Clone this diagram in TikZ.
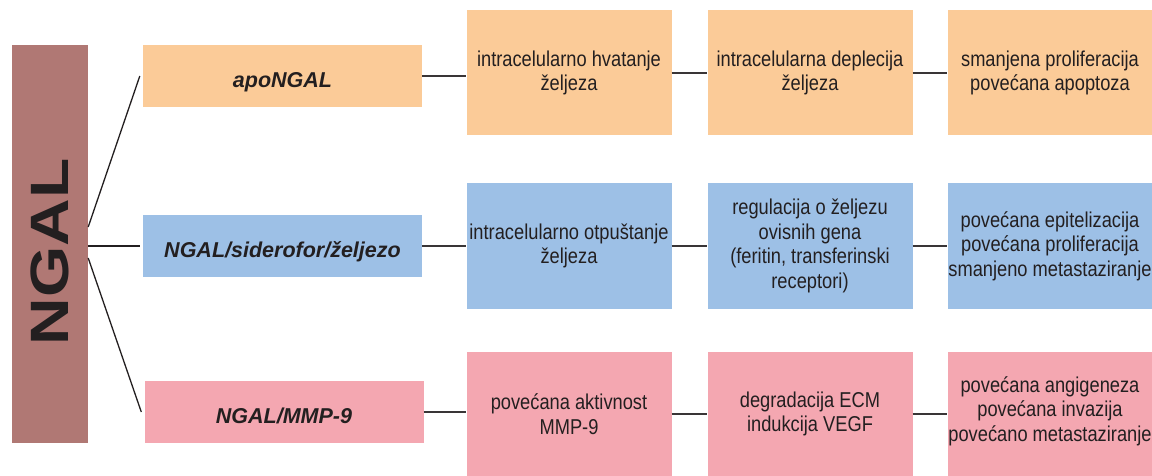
\documentclass[tikz,border=0pt]{standalone}
\usepackage{fontspec}
\setmainfont{Liberation Sans}
\newfontfamily\narrowfont[FakeStretch=0.85]{Liberation Sans}
\newfontfamily\widefont[FakeStretch=1.22]{Liberation Sans}
\usepackage{xcolor}
\definecolor{ngalred}{RGB}{176,120,116}
\definecolor{apopeach}{RGB}{251,203,152}
\definecolor{ironblue}{RGB}{157,192,230}
\definecolor{mmppink}{RGB}{244,167,177}
\definecolor{inkgray}{RGB}{35,31,32}

\begin{document}
\begin{tikzpicture}[x=1pt, y=-1pt,
    every node/.style={text=inkgray, inner sep=0pt},
    formbox/.style={rectangle, minimum width=279pt, minimum height=62pt, text height=23pt, text depth=0pt, font=\fontsize{21.5}{24}\selectfont\bfseries\itshape},
    effectbox/.style={rectangle, minimum width=205pt, minimum height=125pt, align=center, font=\narrowfont\fontsize{21.5}{24.6}\selectfont},
    link/.style={draw=inkgray!90, line width=2.2pt},
    branch/.style={draw=inkgray, line width=1.3pt}]
    \useasboundingbox (0,0) rectangle (1152,476);

    % NGAL
    \node[fill=ngalred, minimum width=76pt, minimum height=398pt] (ngal) at (50,244) {\rotatebox{90}{\widefont\fontsize{54}{54}\selectfont\bfseries NGAL\hspace*{16pt}}};

    % Forms of NGAL
    \node[formbox, fill=apopeach] (apo) at (282.5,76) {apoNGAL};
    \node[formbox, fill=ironblue] (sid) at (282.5,246) {NGAL/siderofor/željezo};
    \node[formbox, fill=mmppink] (mmp) at (284,412) {NGAL/MMP-9};

    % apoNGAL row
    \node[effectbox, fill=apopeach] (apo1) at (569,73) {intracelularno hvatanje\\željeza};
    \node[effectbox, fill=apopeach] (apo2) at (810,73) {intracelularna deplecija\\željeza};
    \node[effectbox, fill=apopeach] (apo3) at (1050,73) {smanjena proliferacija\\povećana apoptoza};

    % NGAL/siderofor/zeljezo row
    \node[effectbox, fill=ironblue] (sid1) at (569,246) {intracelularno otpuštanje\\željeza};
    \node[effectbox, fill=ironblue] (sid2) at (810,246) {regulacija o željezu\\ovisnih gena\\(feritin, transferinski\\receptori)};
    \node[effectbox, fill=ironblue] (sid3) at (1050,246) {povećana epitelizacija\\povećana proliferacija\\smanjeno metastaziranje};

    % NGAL/MMP-9 row
    \node[effectbox, fill=mmppink, minimum height=124pt] (mmp1) at (569,414) {povećana aktivnost\\MMP-9};
    \node[effectbox, fill=mmppink, minimum height=124pt] (mmp2) at (810,414) {degradacija ECM\\indukcija VEGF};
    \node[effectbox, fill=mmppink, minimum height=124pt] (mmp3) at (1050,414) {povećana angigeneza\\povećana invazija\\povećano metastaziranje\\[-14pt]};

    % Branches
    \draw[branch] ([yshift=17pt]ngal.east) -- ([xshift=-3pt]apo.west);
    \draw[branch] (ngal.east |- sid.west) -- ([xshift=-3pt]sid.west);
    \draw[branch] ([yshift=-14pt]ngal.east) -- ([xshift=-3pt]mmp.west);

    % Links
    \draw[link] (apo.east) -- (apo.east -| apo1.west);
    \draw[link] (apo1) -- (apo2);
    \draw[link] (apo2) -- (apo3);
    \draw[link] (sid) -- (sid1);
    \draw[link] (sid1) -- (sid2);
    \draw[link] (sid2) -- (sid3);
    \draw[link] (mmp.east) -- (mmp.east -| mmp1.west);
    \draw[link] (mmp1) -- (mmp2);
    \draw[link] (mmp2) -- (mmp3);
\end{tikzpicture}
\end{document}
